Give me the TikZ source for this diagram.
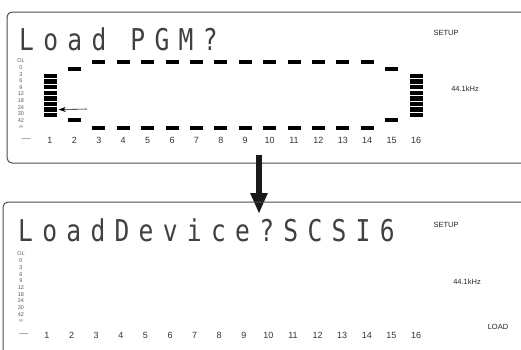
\documentclass[tikz,border=0pt]{standalone}
\usepackage{fontspec}
\setmainfont{Liberation Sans}
\newfontfamily\lcdfont[FakeStretch=0.82, LetterSpace=31]{DejaVu Sans Mono}
\usetikzlibrary{arrows.meta}
\tikzset{
  panel/.style={draw=black!70, line width=1pt, rounded corners=5pt},
  seg/.style={fill=black, inner sep=0pt, minimum width=13pt, minimum height=4.3pt},
  lcd/.style={font=\lcdfont\fontsize{30}{30}\selectfont, anchor=base west, inner sep=0pt, text=black!75},
  chnum/.style={font=\fontsize{9}{9}\selectfont, text=black!80, inner sep=0pt},
  dblabel/.style={font=\fontsize{5.5}{5.5}\selectfont, text=black!65, inner sep=0pt},
  tag/.style={font=\fontsize{7.5}{7.5}\selectfont, text=black!85, inner sep=0pt},
  bigarrow/.style={-{Triangle[length=21pt,width=16pt]}, line width=6pt, draw=black!90},
  pointer/.style={-{Stealth[length=7pt,width=5pt]}, line width=0.6pt}
}
\begin{document}
\begin{tikzpicture}[x=1pt,y=-1pt]
  \useasboundingbox (0,0) rectangle (521,349);
  % upper display
  \draw[panel] (521,12) -- (7,12) -- (7,163) -- (521,163);
  \node[lcd] (title) at (19,50) {Load PGM?};
  \node[tag] (setupA) at (446,33) {SETUP};
  \node[tag] (rateA) at (465,89) {44.1kHz};
  \foreach \l [count=\i from 0] in {OL,0,3,6,9,12,18,24,30,42,∞}
    \node[dblabel] (dbA\i) at (21,{61+6.6*\i}) {\l};
  \node[chnum, text=black!55] (dashA) at (26,140) {—};
  \foreach \ch in {1,...,16}
    \node[chnum] (numA\ch) at ({50+24.4*(\ch-1)},140) {\ch};
  % meter segments
  \foreach \ch in {3,...,14} {
    \node[seg] (hiA\ch) at ({50+24.4*(\ch-1)},62) {};
    \node[seg] (loA\ch) at ({50+24.4*(\ch-1)},128) {};
  }
  \foreach \ch in {2,15} {
    \node[seg] (hiA\ch) at ({50+24.4*(\ch-1)},69) {};
    \node[seg] (loA\ch) at ({50+24.4*(\ch-1)},120) {};
  }
  \foreach \k in {0,...,7} {
    \node[seg] (barL\k) at (50,{76+5.6*\k}) {};
    \node[seg] (barR\k) at (416,{76+5.6*\k}) {};
  }
  \coordinate (ptr) at (87,109);
  \draw[pointer, shorten >=2pt] (ptr) -- (barL6.east);
  % transition
  \coordinate (src) at (259,155);
  \coordinate (dst) at (259,214);
  \draw[bigarrow] (src) -- (dst);
  % lower display
  \draw[panel] (521,202) -- (3,202) -- (3,360);
  \node[lcd] (prompt) at (18,241) {LoadDevice?SCSI6};
  \node[tag] (setupB) at (446,225) {SETUP};
  \node[tag] (rateB) at (467,282) {44.1kHz};
  \node[tag] (mode) at (498,327) {LOAD};
  \foreach \l [count=\i from 0] in {OL,0,3,6,9,12,18,24,30,42,∞}
    \node[dblabel] (dbB\i) at (21,{254+6.7*\i}) {\l};
  \node[chnum, text=black!55] (dashB) at (24,335) {—};
  \foreach \ch in {1,...,16}
    \node[chnum] (numB\ch) at ({47+24.6*(\ch-1)},335) {\ch};
\end{tikzpicture}
\end{document}
